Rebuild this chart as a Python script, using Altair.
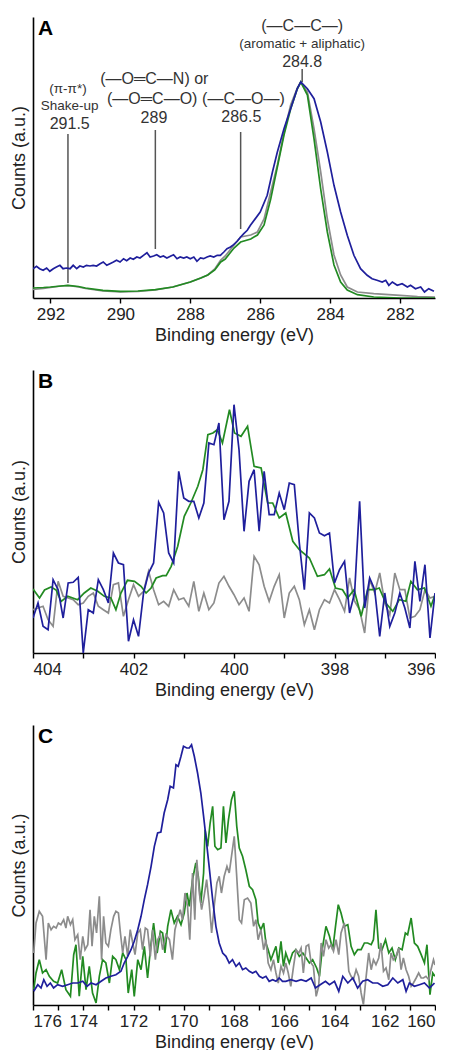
import altair as alt
import pandas as pd

FONT = "Liberation Sans"
BLUE, GREEN, GRAY = "#1f1f9c", "#228a22", "#8c8c8c"

# ---------------- Panel A : C 1s ----------------
a_blue_x = [292.5, 292.4, 292.31, 292.21, 292.11, 292.02, 291.92, 291.83, 291.73, 291.64, 291.54, 291.44,
            291.35, 291.25, 291.16, 291.06, 290.97, 290.87, 290.78, 290.68, 290.58, 290.49, 290.39, 290.3,
            290.2, 290.11, 290.01, 289.91, 289.82, 289.72, 289.63, 289.53, 289.44, 289.34, 289.24, 289.15,
            289.05, 288.96, 288.86, 288.77, 288.67, 288.57, 288.48, 288.38, 288.29, 288.19, 288.1, 288.0,
            287.9, 287.81, 287.71, 287.62, 287.52, 287.43, 287.33, 287.23, 287.14, 287.04, 286.95, 286.85,
            286.76, 286.66, 286.56, 286.47, 286.37, 286.28, 286.0, 285.8, 285.65, 285.51, 285.32, 285.13,
            284.94, 284.84, 284.65, 284.46, 284.27, 284.08, 283.89, 283.7, 283.51, 283.32, 283.13, 282.94,
            282.8, 282.66, 282.51, 282.41, 282.32, 282.22, 282.08, 281.94, 281.79, 281.7, 281.56, 281.41,
            281.3, 281.18, 281.03]
a_blue_y = [29.3, 31.7, 29.3, 27.7, 30, 26.7, 29.3, 31, 32.7, 29.3, 30, 29.3,
            32.7, 29.3, 32, 31, 32.7, 32, 32.7, 32, 34.3, 36, 32.7, 34.3,
            36, 37.7, 36, 39.3, 37.3, 40, 38.7, 41, 40, 42.7, 45.3, 41,
            42, 43.3, 41, 42, 40, 41.7, 43.3, 39.3, 41, 40, 41, 39.3,
            41, 36.7, 40, 39.3, 41, 42, 41, 42.7, 42.7, 46, 49.3, 51,
            53.3, 56.7, 61, 64.3, 67.7, 72.7, 86, 102.7, 126, 146, 169.3, 189.3,
            209.3, 216, 209.3, 199.3, 176, 146, 112.7, 86, 62.7, 42.7, 29.3, 22.7,
            19.3, 17.7, 16, 17.7, 12.7, 16, 12.7, 14.3, 11, 12.7, 9.3, 11,
            6, 9.3, 6.7]
a_green_x = [292.5, 292.2, 292.0, 291.7, 291.5, 291.2, 291.0, 290.5, 290.0, 289.5, 289.0, 288.5, 288.0,
             287.7, 287.5, 287.3, 287.13, 287.0, 286.75, 286.56, 286.27, 286.08, 285.89, 285.7, 285.51,
             285.32, 285.13, 284.94, 284.84, 284.65, 284.46, 284.27, 284.08, 283.89, 283.7, 283.51,
             283.22, 282.75, 282.0, 281.0]
a_green_y = [10, 10.5, 11, 12, 12.7, 11.5, 10, 7.7, 6.7, 7, 8.3, 11, 16,
             20, 23, 28, 36, 39, 50, 56, 59, 63, 73, 99, 131,
             163, 189, 209, 216, 203, 159, 109, 66, 33, 16, 8,
             3.3, 1, 0, 0]
a_gray_x = [292.5, 292.2, 292.0, 291.7, 291.5, 291.2, 291.0, 290.5, 290.0, 289.5, 289.0, 288.5, 288.0,
            287.7, 287.5, 287.3, 287.13, 287.0, 286.75, 286.56, 286.27, 286.08, 285.89, 285.7, 285.51,
            285.32, 285.13, 284.94, 284.84, 284.65, 284.46, 284.27, 284.08, 283.89, 283.7, 283.51,
            283.22, 282.75, 282.0, 281.5, 281.0]
a_gray_y = [8.5, 9.5, 10.5, 12, 12.5, 11, 9.5, 7, 6, 6.5, 8, 11, 16,
            20, 23, 29, 38, 42, 53, 61, 63, 66, 79, 106, 133,
            165, 193, 210, 216, 206, 169, 126, 79, 43, 23, 11,
            6, 4.3, 2.7, 1.5, 1]

# annotations (binding energy, height) in panel A
ann_text = ["(—C—C—)", "(aromatic + aliphatic)", "284.8",
            "(π-π*)", "Shake-up", "291.5",
            "(—O═C—N) or", "(—O═C—O)", "289",
            "(—C—O—)", "286.5"]
ann_x = [284.8, 284.8, 284.8, 291.5, 291.45, 291.45, 289.03, 289.09, 289.04, 286.48, 286.54]
ann_y = [272, 254, 236, 209, 192, 174, 219, 199, 180, 199, 181]
ann_size = [16, 13.5, 16, 13.5, 13.5, 16, 16, 16, 16, 16, 16]
mark_x = [291.5, 289.0, 286.56, 284.8]
mark_top = [164, 168, 166, 229]
mark_bottom = [15, 49, 69, 216]

# ---------------- Panel B : N 1s ----------------
b_x = [round(404 - 0.1 * i, 1) for i in range(81)]
b_blue_y = [35, 50, 26.7, 23.3, 73.3, 63.3, 35, 70, 70.7, 75.7, 0, 43.3, 40, 73.3, 63.3, 50, 100, 90, 88.3,
            11.7, 33.3, 16.7, 60, 80, 90, 150.7, 140, 100, 90, 181.7, 155, 151.7, 151.7, 135, 150, 210,
            208.3, 230, 133.3, 151.7, 248.3, 203.3, 121.7, 171.7, 183.3, 121.7, 181.7, 138.3, 138.3, 160,
            143.3, 170, 168.3, 110, 63.3, 140, 135, 120, 117.3, 120, 70, 83.3, 91.7, 40, 60, 151.7, 45,
            75, 63.3, 16.7, 60, 26.7, 40, 60, 45, 25, 91.7, 51.7, 88.3, 15, 60]
b_gray_y = [43.3, 45, 46.7, 33.3, 26.7, 71.7, 56.7, 55, 53.3, 48.3, 50, 56.7, 60, 46.7, 43.3, 40, 68.3,
            70, 36.7, 53.3, 68.3, 56.7, 61.7, 81.7, 63.3, 48.3, 51.7, 46.7,
            63.3, 53.3, 55, 46.7, 71.7, 41.7, 60, 43.3, 50, 70, 76.7, 66.7, 58.3, 48.3, 55, 41.7, 96.7,
            88.3, 66.7, 51.7, 66.7, 78.3, 35, 60, 66.7,
            53.3, 28.3, 43.3, 23.3, 43.3, 53.3, 50, 63.3, 53.3, 41.7, 75, 51.7, 43.3, 20, 73.3, 60, 80,
            50, 38.3, 80, 63.3, 63.3, 35, 36.7, 43.3, 63.3, 55, 56.7]
b_green_x = [404.0, 403.87, 403.77, 403.64, 403.54, 403.44, 403.31, 403.11, 402.98, 402.85, 402.71,
             402.58, 402.45, 402.35, 402.25, 402.12, 401.98, 401.85, 401.75, 401.65, 401.55, 401.42,
             401.35, 401.25, 401.12, 400.99, 400.86, 400.72, 400.62, 400.52, 400.42, 400.33, 400.23,
             400.09, 399.99, 399.86, 399.73, 399.6, 399.46, 399.33, 399.23, 399.1, 398.97, 398.83,
             398.7, 398.5, 398.34, 398.2, 398.1, 397.98, 397.84, 397.74, 397.61, 397.47, 397.34,
             397.21, 397.11, 396.98, 396.84, 396.71, 396.58, 396.48, 396.35, 396.21, 396.08, 396.0]
b_green_y = [64, 55, 63, 66, 63, 51.7, 56.7, 53.3, 60, 65, 61.7,
             56.7, 55, 43.3, 60, 72.7, 71.7, 66.7, 60, 65, 75, 77.3,
             77.3, 86.7, 106.7, 136.7, 150, 166.7, 183.3, 218.3, 220, 223.3, 210,
             243.3, 220, 216.7, 226.7, 186.7, 185, 150, 150, 135, 140, 111.7,
             103.3, 95, 76.7, 78.3, 84, 65, 63.3, 55, 63.3, 36.7, 63.3,
             63.3, 65, 50, 41.7, 53.3, 51.7, 71.7, 63.3, 65, 46.7, 58.3]

# ---------------- Panel C : S 2p ----------------
c_blue_x = [175.97, 175.81, 175.68, 175.57, 175.44, 175.31, 175.18, 175.02, 174.82, 174.62, 174.42,
            174.22, 174.02, 173.85, 173.69, 173.49, 173.29, 173.1, 172.9, 172.7, 172.5, 172.37, 172.23,
            172.1, 171.97, 171.83, 171.7, 171.57, 171.44, 171.3, 171.17, 171.04, 170.91, 170.78, 170.64,
            170.54, 170.41, 170.31, 170.22, 170.11, 170.01, 169.88, 169.78, 169.69, 169.58, 169.45,
            169.32, 169.21, 169.12, 168.99, 168.85, 168.72, 168.59, 168.45, 168.32, 168.19, 168.06,
            167.92, 167.79, 167.66, 167.53, 167.39, 167.26, 167.13, 166.99, 166.86, 166.73, 166.6,
            166.46, 166.33, 166.2, 166.07, 165.94, 165.74, 165.53, 165.33, 165.13, 164.93, 164.76,
            164.57, 164.36, 164.2, 164.0, 163.83, 163.67, 163.47, 163.27, 163.08, 162.88, 162.68,
            162.48, 162.28, 162.08, 161.88, 161.68, 161.48, 161.28, 161.15, 161.02, 160.82, 160.62,
            160.42, 160.22, 160.02]
c_blue_y = [13.7, 20.3, 17, 25.3, 18.7, 22, 17, 20.3, 18.7, 20.3, 22,
            22, 23.7, 18.7, 22, 20.3, 23.7, 27, 28.7, 30.3, 33.7, 42, 48.7,
            55.3, 63.7, 75.3, 88.7, 105.3, 120.3, 138.7, 158.7, 172, 173, 192, 205.3,
            218.7, 217, 240.3, 238.7, 248.7, 258.7, 257, 257, 260.3, 248.7, 232,
            212, 188.7, 168.7, 138.7, 105.3, 78.7, 62, 52, 48.7, 42, 45.3,
            38.7, 42, 35.3, 37, 33.7, 32, 33.7, 28.7, 27, 28.7, 23.7,
            25.3, 23.7, 27, 23.7, 23.7, 25.3, 23.7, 25.3, 23.7, 27, 17,
            20.3, 23.7, 20.3, 23.7, 13.7, 28.7, 22, 27, 17, 23.7, 25.3,
            22, 22, 18.7, 20.3, 27, 22, 25.3, 13.7, 22, 18.7, 20.3,
            22, 17, 22]
c_green_x = [175.97, 175.88, 175.75, 175.62, 175.48, 175.35, 175.18, 175.02, 174.86, 174.69, 174.51,
             174.38, 174.29, 174.16, 174.02, 173.89, 173.76, 173.63, 173.49, 173.36, 173.23, 173.1,
             172.96, 172.83, 172.7, 172.56, 172.43, 172.3, 172.21, 172.07, 171.97, 171.83, 171.7,
             171.57, 171.44, 171.3, 171.2, 171.06, 170.93, 170.84, 170.75, 170.64, 170.51, 170.38,
             170.25, 170.11, 169.98, 169.87, 169.78, 169.65, 169.52, 169.42, 169.32, 169.21, 169.15,
             169.05, 168.95, 168.85, 168.76, 168.65, 168.52, 168.42, 168.32, 168.22, 168.1, 167.99,
             167.89, 167.79, 167.66, 167.53, 167.39, 167.26, 167.13, 167.04, 166.93, 166.82, 166.73,
             166.64, 166.53, 166.43, 166.33, 166.24, 166.13, 166.03, 165.94, 165.8, 165.67, 165.54,
             165.4, 165.26, 165.13, 165.0, 164.87, 164.71, 164.6, 164.49, 164.34, 164.2, 164.07,
             163.96, 163.85, 163.74, 163.61, 163.47, 163.34, 163.21, 163.08, 162.94, 162.81, 162.68,
             162.54, 162.45, 162.35, 162.24, 162.11, 161.97, 161.84, 161.71, 161.58, 161.44, 161.31,
             161.18, 161.09, 160.95, 160.82, 160.69, 160.55, 160.42, 160.32, 160.2, 160.09, 160.0]
c_green_y = [15.3, 32, 45.3, 32, 35.3, 28.7, 23.7, 22, 35.3, 15.3, 8.7,
             50.3, 60.3, 8.7, 48.7, 15.3, 38.7, 12, 2, 28.7, 45.3, 42,
             22, 48.7, 45.3, 35.3, 52, 45.3, 12, 35.3, 8.7, 45.3, 35.3,
             58.7, 27, 62, 82, 52, 73.7, 72, 52, 78.7, 95.3, 82,
             88.7, 80.3, 92, 112, 98.7, 125.3, 142, 128.7, 102, 132, 175.3,
             158.7, 182, 198.7, 158.7, 155.3, 157, 198.7, 162, 185.3, 205.3, 213.7,
             178.7, 157, 148.7, 135.3, 118.7, 115.3, 105.3, 82, 75.3, 82, 62,
             55.3, 45.3, 52, 58.7, 42, 63.7, 38.7, 52, 42, 52, 55.3,
             48.7, 52, 47, 42, 45.3, 37, 28.7, 55.3, 78.7, 68.7, 55.3,
             78.7, 100.3, 92, 78.7, 80.3, 58.7, 50.3, 55.3, 55.3, 62, 62,
             60.3, 65.3, 95.3, 57, 55.3, 65.3, 52, 57, 45.3, 57, 55.3,
             72, 70.3, 87, 62, 58.7, 50.3, 42, 60.3, 10.3, 32, 28.7]
c_gray_x = [175.97, 175.88, 175.75, 175.62, 175.48, 175.39, 175.28, 175.18, 175.08, 174.99, 174.89,
            174.78, 174.69, 174.62, 174.51, 174.42, 174.33, 174.22, 174.12, 174.02, 173.93, 173.82,
            173.73, 173.65, 173.56, 173.47, 173.36, 173.27, 173.19, 173.1, 173.0, 172.9, 172.79,
            172.7, 172.6, 172.52, 172.43, 172.34, 172.23, 172.13, 172.03, 171.94, 171.83, 171.73,
            171.64, 171.53, 171.44, 171.33, 171.24, 171.13, 171.04, 170.93, 170.84, 170.71, 170.57,
            170.45, 170.35, 170.25, 170.14, 170.05, 169.95, 169.85, 169.76, 169.65, 169.56, 169.48,
            169.38, 169.29, 169.19, 169.09, 168.99, 168.89, 168.79, 168.68, 168.59, 168.5, 168.39,
            168.28, 168.19, 168.1, 167.99, 167.9, 167.79, 167.7, 167.59, 167.46, 167.33, 167.22,
            167.13, 167.04, 166.93, 166.82, 166.73, 166.64, 166.53, 166.43, 166.33, 166.24, 166.13,
            166.03, 165.94, 165.84, 165.74, 165.63, 165.53, 165.42, 165.33, 165.24, 165.13, 165.03,
            164.93, 164.84, 164.73, 164.63, 164.53, 164.44, 164.34, 164.23, 164.14, 164.04, 163.94,
            163.83, 163.74, 163.61, 163.51, 163.43, 163.34, 163.25, 163.14, 163.04, 162.94, 162.85,
            162.74, 162.64, 162.54, 162.45, 162.35, 162.24, 162.15, 162.05, 161.95, 161.84, 161.75,
            161.66, 161.55, 161.44, 161.35, 161.26, 161.15, 161.05, 160.95, 160.86, 160.75, 160.65,
            160.55, 160.46, 160.36, 160.25, 160.16, 160.06, 160.0]
c_gray_y = [52, 82, 93.7, 88.7, 45.3, 82, 75.3, 78.7, 77, 82, 80.3,
            85.3, 77, 88.7, 80.3, 85.3, 65.3, 70.3, 45.3, 68.7, 55.3, 60.3,
            95.3, 58.7, 88.7, 72, 108.7, 45.3, 88.7, 62, 58.7, 75.3, 88.7,
            93.7, 92, 72, 52, 68.7, 48.7, 75.3, 62, 50.3, 72, 75.3,
            55.3, 77, 75.3, 48.7, 75.3, 45.3, 65.3, 70.3, 55.3, 70.3, 65.3,
            45.3, 75.3, 85.3, 95.3, 85.3, 112, 98.7, 65.3, 132, 85.3, 145.3,
            112, 95.3, 108.7, 125.3, 102, 72, 98.7, 122, 128.7, 112, 128.7,
            138.7, 132, 148.7, 168.7, 132, 85.3, 82, 105.3, 107, 102, 78.7,
            85.3, 65.3, 75.3, 55.3, 65.3, 42, 35.3, 45.3, 32, 22, 38.7,
            32, 42, 32, 18.7, 38.7, 55.3, 52, 57, 32, 58.7, 60.3,
            42, 38.7, 8.7, 18.7, 62, 48.7, 65.3, 57, 60.3, 53.7, 65.3,
            50.3, 72, 82, 58.7, 33.7, 28.7, 25.3, 35.3, 28.7, 12, 0.3,
            28.7, 52, 35.3, 45.3, 40.3, 47, 62, 33.7, 37, 25.3, 52,
            45.3, 48.7, 57, 35.3, 47, 35.3, 28.7, 18.7, 22, 27, 32,
            27, 27, 28.7, 25.3, 35.3, 45.3, 40]

label_axis_x = "Binding energy (eV)"
label_axis_y = "Counts (a.u.)"


def series_layer(xs, ys, color, xdom, ydom, ticks):
    df = pd.DataFrame({"eV": xs, "counts": ys})
    return alt.Chart(df).mark_line(color=color, strokeWidth=1.7, clip=True).encode(
        x=alt.X("eV:Q", scale=alt.Scale(domain=xdom, nice=False, zero=False),
                axis=alt.Axis(values=ticks, title=label_axis_x,
                              labelExpr="datum.value % 2 == 0 ? datum.label : ''")),
        y=alt.Y("counts:Q", scale=alt.Scale(domain=ydom, nice=False, zero=False),
                axis=alt.Axis(labels=False, ticks=False, title=label_axis_y)),
    )


def letter_layer(letter):
    return alt.Chart(pd.DataFrame({"t": [letter]})).mark_text(
        align="left", baseline="alphabetic", fontSize=21, fontWeight="bold", font=FONT, color="black"
    ).encode(x=alt.value(5), y=alt.value(18), text="t:N")


# Panel A
xa, ya = [292.5, 281], [0, 281]
ticks_a = list(range(281, 293))
ann_df = pd.DataFrame({"t": ann_text, "x": ann_x, "y": ann_y, "s": ann_size})
mk_df = pd.DataFrame({"x": mark_x, "y": mark_top, "y2": mark_bottom})
ann_layer = alt.Chart(ann_df).mark_text(font=FONT, color="#333333", baseline="middle").encode(
    x=alt.X("x:Q", scale=alt.Scale(domain=xa, nice=False, zero=False)),
    y=alt.Y("y:Q", scale=alt.Scale(domain=ya, nice=False, zero=False)),
    text="t:N",
    size=alt.Size("s:Q", scale=None, legend=None),
)
mk_layer = alt.Chart(mk_df).mark_rule(color="#555555", strokeWidth=1.5).encode(
    x=alt.X("x:Q", scale=alt.Scale(domain=xa, nice=False, zero=False)),
    y=alt.Y("y:Q", scale=alt.Scale(domain=ya, nice=False, zero=False)),
    y2="y2:Q",
)
panel_a = alt.layer(
    mk_layer,
    series_layer(a_gray_x, a_gray_y, GRAY, xa, ya, ticks_a),
    series_layer(a_green_x, a_green_y, GREEN, xa, ya, ticks_a),
    series_layer(a_blue_x, a_blue_y, BLUE, xa, ya, ticks_a),
    ann_layer,
    letter_layer("A"),
).properties(width=402, height=281)

# Panel B
xb, yb = [404, 396], [0, 283]
ticks_b = list(range(396, 405))
panel_b = alt.layer(
    series_layer(b_x, b_gray_y, GRAY, xb, yb, ticks_b),
    series_layer(b_green_x, b_green_y, GREEN, xb, yb, ticks_b),
    series_layer(b_x, b_blue_y, BLUE, xb, yb, ticks_b),
    letter_layer("B"),
).properties(width=402, height=283)

# Panel C
xc, yc = [176, 160], [0, 280]
ticks_c = list(range(160, 177))
panel_c = alt.layer(
    series_layer(c_green_x, c_green_y, GREEN, xc, yc, ticks_c),
    series_layer(c_gray_x, c_gray_y, GRAY, xc, yc, ticks_c),
    series_layer(c_blue_x, c_blue_y, BLUE, xc, yc, ticks_c),
    letter_layer("C"),
).properties(width=402, height=280)

chart = alt.vconcat(panel_a, panel_b, panel_c, spacing=26).properties(
    padding={"left": 2, "top": 9, "right": 0, "bottom": 0}
).configure_view(stroke=None).configure_axis(
    grid=False,
    domainColor="black", domainWidth=1.6,
    tickColor="black", tickWidth=1.4, tickSize=5,
    labelFont=FONT, labelFontSize=17, labelColor="#222222", labelPadding=3,
    titleFont=FONT, titleFontSize=18, titleFontWeight="normal", titleColor="#222222",
).configure_axisX(titlePadding=4).configure_axisY(titlePadding=5)

chart.save("out.html", embed_options={"renderer": "svg", "actions": False})
